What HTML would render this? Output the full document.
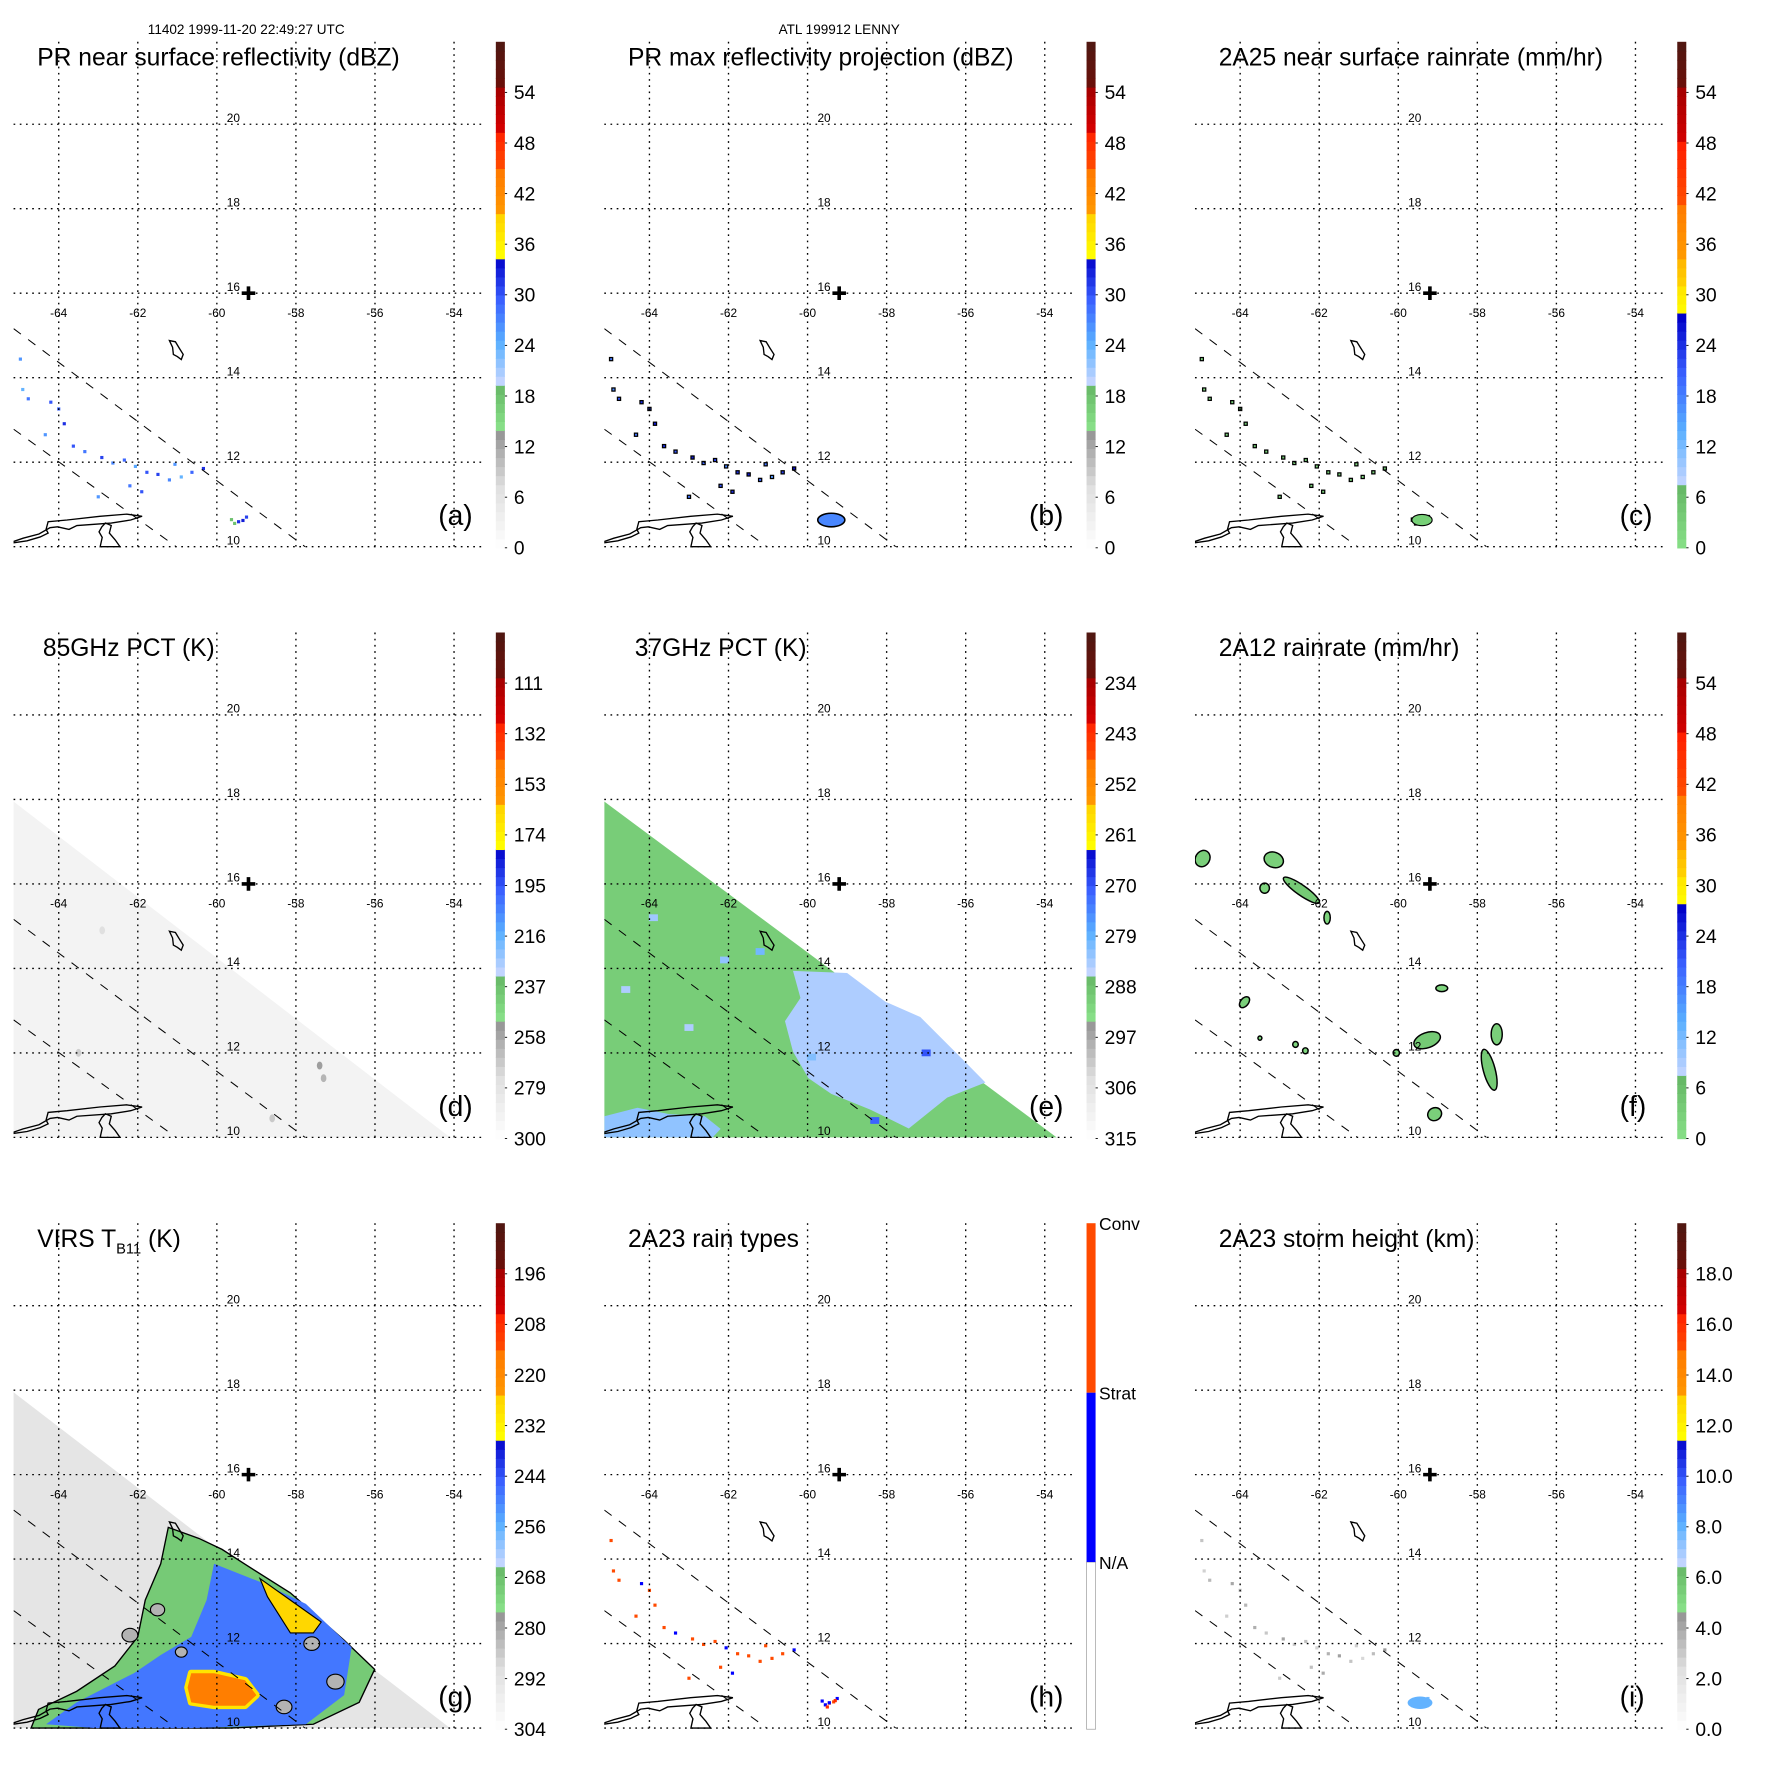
<!DOCTYPE html>
<html><head><meta charset="utf-8"><title>TRMM LENNY 1999</title>
<style>html,body{margin:0;padding:0;background:#fff}svg{display:block}text{font-family:"Liberation Sans",Arial,sans-serif}</style>
</head><body>
<svg id="fig" xmlns="http://www.w3.org/2000/svg" width="1771" height="1771" viewBox="0 0 1568 1568">
<rect x="0" y="0" width="1568" height="1568" fill="#fff"/>
<text x="218" y="30" font-size="12" text-anchor="middle">11402 1999-11-20 22:49:27 UTC</text>
<text x="743" y="30" font-size="12" text-anchor="middle">ATL 199912 LENNY</text>
</svg>
<script>
// ---------- data ----------
const lonTicks=[-64,-62,-60,-58,-56,-54];
const latTicks=[10,12,14,16,18,20];
const stormLon=-59.2, stormLat=16.0;
// PR rain pixels
const prLon=[-64.97,-64.91,-64.77,-64.2,-64.0,-63.86,-64.34,-63.63,-63.34,-62.91,-62.63,-62.34,-62.06,-61.77,-61.49,-61.2,-61.06,-60.63,-60.34,-62.2,-63.0,-61.9,-60.9,-59.63,-59.45,-59.34,-59.25,-59.55];
const prLat=[14.44,13.72,13.5,13.42,13.26,12.91,12.65,12.38,12.25,12.11,11.98,12.05,11.9,11.76,11.71,11.58,11.95,11.76,11.85,11.44,11.18,11.3,11.65,10.64,10.59,10.62,10.7,10.55];
const aVal=[26,24,28,30,29,32,26,30,28,31,27,29,25,30,31,27,26,29,32,28,26,30,24,18,32,33,31,18];
const bVal=[28,27,30,32,31,33,28,32,30,33,29,31,27,32,33,29,28,31,34,30,28,32,26,24,34,36,33,24];
const cVal=[2,1,3,4,3,5,2,4,3,5,2,4,2,4,5,3,2,4,6,3,2,4,1,3,6,7,5,3];
const hType=[2,2,2,1,2,2,2,2,1,2,2,2,1,2,2,2,2,2,1,2,2,1,2,1,2,2,1,1];
const iHeight=[3.2,2.8,3.5,4.0,3.0,3.6,2.9,3.8,3.1,4.1,3.0,3.3,2.7,3.7,4.2,3.2,2.9,3.4,4.5,3.3,3.0,3.9,2.6,7.5,8.2,8.5,7.8,7.0];
// PR swath edges [lon0,lat0,lon1,lat1]
const swathA=[-65.14,15.16,-57.77,10.0];
const swathB=[-65.14,12.78,-61.03,10.0];
// TMI / VIRS swath edge
const tmiEdgeTop=17.95, tmiEdgeRightLon=-54.1;
const tmiEdgeRightLonE=-53.7;
// 85GHz dark spots
const dLon=[-63.5,-57.4,-57.3,-58.6,-62.9];
const dLat=[12.0,11.7,11.4,10.45,14.9];
const dVal=[270,255,262,268,275];
// 37GHz light region
const eRegLon=[-60.37,-59.0,-58.03,-57.15,-56.08,-55.5,-56.47,-57.44,-58.42,-59.4,-59.98,-60.37,-60.57,-60.18];
const eRegLat=[13.94,13.89,13.21,12.85,11.85,11.3,10.94,10.21,10.66,11.03,11.4,12.03,12.75,13.3];
const eRegVal=284;
const eCoastLon=[-65.14,-64.3,-63.5,-62.6,-62.2,-62.4,-63.4,-65.14];
const eCoastLat=[10.5,10.7,10.55,10.5,10.2,10.0,10.0,10.0];
const eSpotLon=[-57.0,-58.3,-63.9,-62.1,-61.2,-64.6,-63.0,-59.9];
const eSpotLat=[12.0,10.4,15.2,14.2,14.4,13.5,12.6,11.9];
const eSpotVal=[270,271,283,282,280,284,284,281];
// 2A12 blobs
const fLon=[-64.95,-63.15,-62.45,-63.38,-61.8,-58.9,-63.89,-59.27,-57.7,-57.51,-59.08,-62.6,-62.35,-60.05,-63.5];
const fLat=[16.6,16.57,15.85,15.9,15.2,13.53,13.2,12.3,11.6,12.44,10.55,12.2,12.05,12.0,12.35];
const fRx=[0.18,0.25,0.55,0.12,0.08,0.15,0.1,0.35,0.15,0.14,0.18,0.07,0.07,0.08,0.05];
const fRy=[0.2,0.18,0.12,0.12,0.15,0.08,0.15,0.18,0.5,0.25,0.15,0.07,0.07,0.08,0.05];
const fRot=[30,20,35,0,0,0,40,-20,-15,0,-30,0,0,0,0];
const fVal=[3,3,4,2,2,2,3,4,4,3,3,2,2,2,2];
// VIRS regions
const gGreenLon=[-61.23,-60.45,-59.87,-59.29,-58.14,-56.78,-56.01,-56.4,-57.56,-59.68,-62.58,-64.7,-64.51,-63.55,-62.58,-62.0,-61.81,-61.42];
const gGreenLat=[14.75,14.49,14.23,13.88,13.2,12.08,11.39,10.61,10.09,10.0,10.0,10.0,10.44,10.87,11.47,12.16,13.03,13.89];
const gBlueLon=[-60.07,-58.91,-57.75,-56.59,-56.78,-57.75,-60.65,-63.06,-64.32,-63.55,-62.1,-61.42,-60.65,-60.26];
const gBlueLat=[13.89,13.46,12.94,11.91,10.78,10.09,10.0,10.0,10.09,10.61,11.3,11.73,12.16,13.03];
const gCoreLon=[-60.65,-60.07,-59.29,-59.0,-59.29,-60.07,-60.65,-60.74];
const gCoreLat=[11.3,11.3,11.13,10.78,10.53,10.53,10.61,10.96];
const gEdgeLon=[-58.91,-58.14,-57.36,-57.56,-58.14,-58.72];
const gEdgeLat=[13.54,13.03,12.51,12.25,12.25,13.11];
const gGreyLon=[-62.2,-61.5,-60.9,-57.6,-57.0,-58.3];
const gGreyLat=[12.2,12.8,11.8,12.0,11.1,10.5];
const gGreyR=[0.2,0.18,0.15,0.2,0.22,0.2];
const gVals={base:292,green:270,blue:248,yellow:229,core:216,edge:226,grey:282};
// coastlines
const venLon=[-65.15,-64.8,-64.47,-64.27,-64.32,-64.27,-63.79,-62.96,-62.28,-61.89,-62.18,-62.67,-63.54,-63.74,-64.03,-64.22,-64.5,-64.9,-65.15];
const venLat=[10.09,10.14,10.23,10.32,10.41,10.59,10.63,10.72,10.77,10.72,10.63,10.56,10.5,10.41,10.47,10.45,10.3,10.2,10.12];
const triLon=[-62.91,-62.82,-62.67,-62.72,-62.57,-62.45,-62.95,-62.9,-62.98];
const triLat=[10.47,10.56,10.5,10.32,10.16,10.0,10.0,10.22,10.35];
const marLon=[-61.2,-61.05,-60.95,-60.85,-60.9,-61.0,-61.1,-61.12];
const marLat=[14.88,14.85,14.7,14.55,14.43,14.5,14.55,14.72];

// colorbar ticks
const ticksA=[0,6,12,18,24,30,36,42,48,54];
const ticksD=[300,279,258,237,216,195,174,153,132,111];
const ticksE=[315,306,297,288,279,270,261,252,243,234];
const ticksG=[304,292,280,268,256,244,232,220,208,196];
const ticksI=["0.0","2.0","4.0","6.0","8.0","10.0","12.0","14.0","16.0","18.0"];

// ---------- colour schemes ----------
const schemeA=[[0,.2375,['#ffffff','#e0e0e0','#8e8e8e']],[.2375,.322,['#88e088','#66b866']],[.322,.575,['#ccd8ff','#5ab0ff','#3a60ff','#0000c8']],[.575,.659,['#ffff00','#ffd200']],[.659,.743,['#ff9a00','#ff7a00']],[.743,.828,['#ff5000','#ff1e00']],[.828,.916,['#d40000','#a00000']],[.916,1,['#6a100a','#4e1812']]];
const schemeC=[[0,.119,['#88e088','#66b866']],[.119,.457,['#ccd8ff','#5ab0ff','#3a60ff','#0000c8']],[.457,.526,['#ffff00','#ffe000']],[.526,.576,['#ffd000','#ffb000']],[.576,.68,['#ff9a00','#ff7a00']],[.68,.799,['#ff5000','#ff1e00']],[.799,.918,['#d40000','#a00000']],[.918,1,['#6a100a','#4e1812']]];
function hex(c){return [parseInt(c.slice(1,3),16),parseInt(c.slice(3,5),16),parseInt(c.slice(5,7),16)];}
function mix(a,b,t){const A=hex(a),B=hex(b);return 'rgb('+A.map((v,i)=>Math.round(v+(B[i]-v)*t)).join(',')+')';}
function colorAt(s,f){f=Math.max(0,Math.min(0.999,f));for(const [lo,hi,st] of s){if(f>=lo&&f<hi){const t=(f-lo)/(hi-lo)*(st.length-1);const i=Math.min(Math.floor(t),st.length-2);return mix(st[i],st[i+1],t-i);}}return '#000';}

// ---------- helpers ----------
const svg=document.getElementById('fig');
const NS='http://www.w3.org/2000/svg';
function mk(tag,attrs,parent){const e=document.createElementNS(NS,tag);for(const k in attrs)e.setAttribute(k,attrs[k]);(parent||svg).appendChild(e);return e;}
function panel(col,row){
  const ox=12+523*col, oy=37+523*row;
  return {ox,oy,X:lon=>ox+40+(lon+64)*35,Y:lat=>oy+447-(lat-10)*37.4};
}
function poly(P,lons,lats){return lons.map((l,i)=>P.X(l).toFixed(1)+','+P.Y(lats[i]).toFixed(1)).join(' ');}
let clipN=0;

function drawPanel(col,row,title,letter,scheme,ticks,fracFn,content,opts){
  opts=opts||{};
  const P=panel(col,row);
  const g=mk('g',{});
  
  
  const cid='clip'+(clipN++);
  const cp=mk('clipPath',{id:cid},g);mk('rect',{x:P.ox,y:P.oy,width:418,height:448},cp);
  const map=mk('g',{'clip-path':'url(#'+cid+')'},g);
  
  
  content(P,map);
  const coast=mk('g',{fill:'none',stroke:'#000','stroke-width':1.2},map);
  
  
  mk('polyline',{points:poly(P,venLon,venLat)},coast);
  mk('polygon',{points:poly(P,triLon,triLat)},coast);
  mk('polygon',{points:poly(P,marLon,marLat)},coast);
  for(const s of [swathA,swathB]){
    const ln=mk('line',{x1:P.X(s[0]),y1:P.Y(s[1]),x2:P.X(s[2]),y2:P.Y(s[3]),stroke:'#000','stroke-width':0.9,'stroke-dasharray':'8,8'},map);
    
    
  }
  for(const lo of lonTicks){
    const ln=mk('line',{x1:P.X(lo),y1:P.oy,x2:P.X(lo),y2:P.oy+448,stroke:'#000','stroke-width':1.2,'stroke-dasharray':'1.5,4'},g);
    
    
    const t=mk('text',{x:P.X(lo),y:P.Y(16)+21,'font-size':10.5,'text-anchor':'middle'},g);t.textContent=lo;
    
    
  }
  for(const la of latTicks){
    const ln=mk('line',{x1:P.ox,y1:P.Y(la),x2:P.ox+418,y2:P.Y(la),stroke:'#000','stroke-width':1.2,'stroke-dasharray':'1.5,4'},g);
    
    
    const t=mk('text',{x:P.X(-59.75),y:P.Y(la)-2,'font-size':10.5},g);t.textContent=la;
    
    
  }
  const cx=P.X(stormLon),cy=P.Y(stormLat);
  const cr=mk('path',{d:`M${cx-6} ${cy}H${cx+6}M${cx} ${cy-6}V${cy+6}`,stroke:'#000','stroke-width':3.2},g);
  
  
  const tt=mk('text',{x:P.ox+(opts.tx||21),y:P.oy+21,'font-size':21.8},g);
  
  
  if(opts.virs){tt.innerHTML='VIRS T<tspan font-size="13" dy="6">B11</tspan><tspan dy="-6"> (K)</tspan>';}else tt.textContent=title;
  const lt=mk('text',{x:P.ox+376,y:P.oy+428,'font-size':25},g);lt.textContent='('+letter+')';
  
  
  const cb=mk('g',{},g);
  
  
  const bx=P.ox+427,by=P.oy,bh=448;
  if(scheme==='H'){
    mk('rect',{x:bx,y:by+300,width:8,height:148,fill:'#fff',stroke:'#999','stroke-width':.6},cb);
    mk('rect',{x:bx,y:by+150,width:8,height:150,fill:'#0000ff'},cb);
    mk('rect',{x:bx,y:by,width:8,height:150,fill:'#ff4a00'},cb);
    ['N/A','Strat','Conv'].forEach((s,i)=>{const t=mk('text',{x:bx+11,y:[by+306,by+156,by+6][i],'font-size':15.5},cb);t.textContent=s;
      
      });
  } else {
    const N=56;
    for(let i=0;i<N;i++){mk('rect',{x:bx,y:by+bh-(i+1)*bh/N,width:8,height:bh/N+0.6,fill:colorAt(scheme,(i+0.5)/N)},cb);}
    ticks.forEach((tk,i)=>{const y=by+bh-i*bh/10;
      mk('line',{x1:bx+8,y1:y,x2:bx+10,y2:y,stroke:'#000','stroke-width':.8},cb);
      const t=mk('text',{x:bx+16,y:y+6,'font-size':17},cb);t.textContent=tk;
      
      });
  }
  return P;
}
function px(P,parent,lon,lat,fill,name,stroke){
  const r=mk('rect',{x:P.X(lon)-1.4,y:P.Y(lat)-1.4,width:2.8,height:2.8,fill:fill},parent);
  if(stroke){r.setAttribute('stroke',stroke);r.setAttribute('stroke-width',1.1);}
  
  
  return r;
}
function triangle(P,parent,rightLon,fill){
  const t=mk('polygon',{points:`${P.ox},${P.Y(tmiEdgeTop)} ${P.X(rightLon)},${P.Y(10)} ${P.ox},${P.Y(10)}`,fill:fill},parent);
  
  
}

// (a)
drawPanel(0,0,'PR near surface reflectivity (dBZ)','a',schemeA,ticksA,null,(P,m)=>{
  prLon.forEach((l,i)=>px(P,m,l,prLat[i],colorAt(schemeA,aVal[i]/60),'reflectivity-pixel'));
});
// (b)
drawPanel(1,0,'PR max reflectivity projection (dBZ)','b',schemeA,ticksA,null,(P,m)=>{
  prLon.forEach((l,i)=>px(P,m,l,prLat[i],colorAt(schemeA,bVal[i]/60),'max-reflectivity-pixel','#000'));
  const c=mk('ellipse',{cx:P.X(-59.4),cy:P.Y(10.63),rx:12,ry:6,fill:colorAt(schemeA,0.45),stroke:'#000','stroke-width':1.4},m);
  
  
});
// (c)
drawPanel(2,0,'2A25 near surface rainrate (mm/hr)','c',schemeC,ticksA,null,(P,m)=>{
  prLon.forEach((l,i)=>px(P,m,l,prLat[i],colorAt(schemeC,cVal[i]/60),'rainrate-pixel','#000'));
  const c=mk('ellipse',{cx:P.X(-59.4),cy:P.Y(10.63),rx:9,ry:5,fill:'#77d077',stroke:'#000','stroke-width':1},m);
  
  
});
// (d)
drawPanel(0,1,'85GHz PCT (K)','d',schemeA,ticksD,null,(P,m)=>{
  triangle(P,m,tmiEdgeRightLon,colorAt(schemeA,(300-290)/210));
  dLon.forEach((l,i)=>{const e=mk('ellipse',{cx:P.X(l),cy:P.Y(dLat[i]),rx:2.5,ry:3.5,fill:colorAt(schemeA,(300-dVal[i])/210)},m);
    
    });
},{tx:26});
// (e)
drawPanel(1,1,'37GHz PCT (K)','e',schemeA,ticksE,null,(P,m)=>{
  triangle(P,m,tmiEdgeRightLonE,colorAt(schemeA,(315-290)/90));
  const r=mk('polygon',{points:poly(P,eRegLon,eRegLat),fill:colorAt(schemeA,(315-eRegVal)/90)},m);
  
  
  const r2=mk('polygon',{points:poly(P,eCoastLon,eCoastLat),fill:colorAt(schemeA,(315-282)/90)},m);
  
  
  eSpotLon.forEach((l,i)=>{const e=mk('rect',{x:P.X(l)-4,y:P.Y(eSpotLat[i])-3,width:8,height:6,fill:colorAt(schemeA,(315-eSpotVal[i])/90)},m);
    
    });
},{tx:27});
// (f)
drawPanel(2,1,'2A12 rainrate (mm/hr)','f',schemeC,ticksA,null,(P,m)=>{
  fLon.forEach((l,i)=>{const cx=P.X(l),cy=P.Y(fLat[i]);
    const e=mk('ellipse',{cx:cx,cy:cy,rx:fRx[i]*35,ry:fRy[i]*37.4,fill:colorAt(schemeC,fVal[i]/60),stroke:'#000','stroke-width':1.3,transform:`rotate(${fRot[i]} ${cx} ${cy})`},m);
    
    });
});
// (g)
drawPanel(0,2,'VIRS TB11 (K)','g',schemeA,ticksG,null,(P,m)=>{
  const f=v=>(304-v)/120;
  triangle(P,m,tmiEdgeRightLon,colorAt(schemeA,f(gVals.base)));
  const a=mk('polygon',{points:poly(P,gGreenLon,gGreenLat),fill:colorAt(schemeA,f(gVals.green)),stroke:'#000','stroke-width':1.2},m);
  
  
  const b=mk('polygon',{points:poly(P,gBlueLon,gBlueLat),fill:colorAt(schemeA,f(gVals.blue))},m);
  
  
  gGreyLon.forEach((l,i)=>{const e=mk('ellipse',{cx:P.X(l),cy:P.Y(gGreyLat[i]),rx:gGreyR[i]*35,ry:gGreyR[i]*30,fill:colorAt(schemeA,f(gVals.grey)),stroke:'#000','stroke-width':1},m);
    
    });
  const y=mk('polygon',{points:poly(P,gCoreLon,gCoreLat),fill:colorAt(schemeA,f(gVals.yellow)),stroke:colorAt(schemeA,f(gVals.yellow)),'stroke-width':6,'stroke-linejoin':'round'},m);
  
  
  const c=mk('polygon',{points:poly(P,gCoreLon,gCoreLat),fill:colorAt(schemeA,f(gVals.core))},m);
  
  
  const e=mk('polygon',{points:poly(P,gEdgeLon,gEdgeLat),fill:colorAt(schemeA,f(gVals.edge)),stroke:'#000','stroke-width':1},m);
  
  
},{virs:true});
// (h)
drawPanel(1,2,'2A23 rain types','h','H',null,null,(P,m)=>{
  prLon.forEach((l,i)=>px(P,m,l,prLat[i],hType[i]===2?'#ff4a00':'#0000ff','rain-type-pixel'));
  [[-59.45,10.6,'#0000ff'],[-59.3,10.65,'#ff2a00'],[-59.5,10.5,'#ff2a00']].forEach(d=>px(P,m,d[0],d[1],d[2],'rain-type-pixel'));
});
// (i)
drawPanel(2,2,'2A23 storm height (km)','i',schemeA,ticksI,null,(P,m)=>{
  prLon.forEach((l,i)=>px(P,m,l,prLat[i],colorAt(schemeA,iHeight[i]/20),'storm-height-pixel'));
  const c=mk('ellipse',{cx:P.X(-59.45),cy:P.Y(10.6),rx:11,ry:5.5,fill:colorAt(schemeA,0.4)},m);
  
  
});
</script>
</body></html>
